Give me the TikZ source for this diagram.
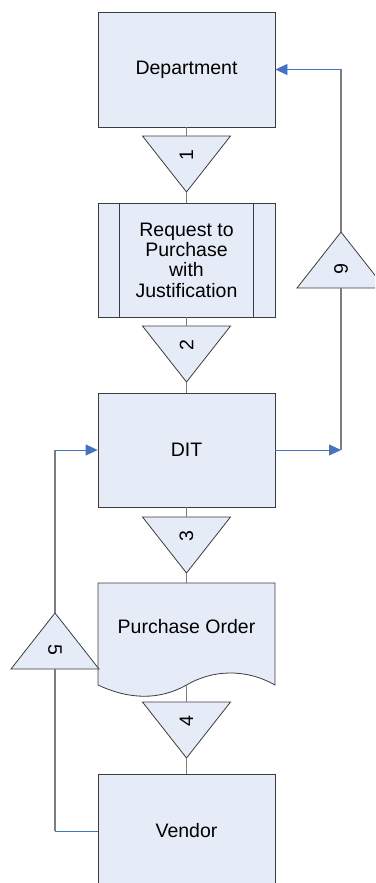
\documentclass[tikz,border=0pt]{standalone}
\usepackage{fontspec}
\setmainfont{Liberation Sans}
\usetikzlibrary{arrows.meta}
\definecolor{boxfill}{RGB}{230,236,247}
\definecolor{flowblue}{RGB}{68,114,196}
\definecolor{edge}{RGB}{60,60,60}
\definecolor{linkgray}{RGB}{125,125,125}

\begin{document}
\begin{tikzpicture}[x=1pt, y=-1pt]
  \tikzset{
    font={\fontsize{19.5pt}{20.4pt}\selectfont},
    box/.style={draw=edge, fill=boxfill, line width=0.8pt, minimum width=177pt,
      minimum height=114pt, inner sep=0pt, align=center},
    tri/.style={draw=edge, fill=boxfill, line width=0.8pt},
    num/.style={inner sep=0pt},
    link/.style={draw=linkgray, line width=1.1pt},
    flow/.style={draw=flowblue, line width=0.8pt},
    flowarrow/.style={flow, -{Triangle[length=12pt,width=11pt]}},
  }

  \useasboundingbox (0,0) rectangle (375,883);
  \clip (0,0) rectangle (375,883);

  % main column of steps
  \node[box, minimum height=115pt] (dept) at (186.5,69.5) {Department};
  \node[box] (req) at (186.5,260) {Request to\\Purchase\\with\\Justification};
  \draw[tri] ([xshift=22pt]req.north west) -- ([xshift=22pt]req.south west);
  \draw[tri] ([xshift=-22pt]req.north east) -- ([xshift=-22pt]req.south east);
  \node[box] (dit) at (186.5,450) {DIT};

  % purchase order sheet with wavy bottom
  \filldraw[tri] (98,583) -- (186.5,583) coordinate (po top) -- (275,583) -- (275,685)
    .. controls (245,668) and (212,670) .. (186.5,685) coordinate (po wave)
    .. controls (160,700) and (130,700) .. (98,685) -- cycle;
  \node (po) at (186.5,627) {Purchase Order};

  \node[box] (vendor) at (186.5,831) {Vendor};

  % numbered triangles: label/base x/base y/direction
  \foreach \n/\bx/\by/\d in {1/186.5/136/1, 2/186.5/326/1, 3/186.5/517/1,
                             4/186.5/702/1, 5/55/669/-1, 6/341/288/-1} {
    \filldraw[tri] (\bx,\by) coordinate (base\n) ++(-44,0) -- ++(88,0)
      -- ++(-44,\d*56) coordinate (tip\n) -- cycle;
    \pgfmathtruncatemacro\ang{90*\d}
    \node[num] (t\n) at (\bx,{\by+\d*19}) {\rotatebox{\ang}{\n}};
  }

  % links down the column
  \foreach \a/\b in {dept/base1, tip1/req, req/base2, tip2/dit,
                     dit/base3, tip3/po top, po wave/base4, tip4/vendor}
    \draw[link] (\a) -- (\b);

  % vendor back to DIT
  \draw[flow] (vendor.west) -- (vendor.west -| base5) coordinate (c5);
  \draw[link] (c5) -- (base5);
  \draw[link] (tip5) -- (tip5 |- dit.west) coordinate (c5 top);
  \draw[flowarrow] (c5 top) -- (dit.west);

  % DIT back up to department
  \draw[flowarrow] (dit.east) -- (dit.east -| base6) coordinate (c6);
  \draw[link] (c6) -- (base6);
  \draw[link] (tip6) -- (tip6 |- dept.east) coordinate (c6 top);
  \draw[flowarrow] (c6 top) -- (dept.east);
\end{tikzpicture}
\end{document}
